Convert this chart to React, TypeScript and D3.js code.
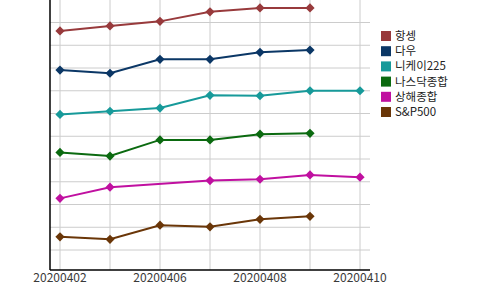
import React from "react";
import * as d3 from "d3";

const categories = ["20200402", "20200403", "20200406", "20200407", "20200408", "20200409", "20200410"];
const tickLabels = ["20200402", "20200406", "20200408", "20200410"];
const seriesNames = ["항셍", "다우", "니케이225", "나스닥종합", "상해종합", "S&P500"];
const seriesColors = ["#983a3c", "#0b3766", "#179a9a", "#0b6a10", "#c010a0", "#6a3608"];

const hangseng = [116.3, 118.5, 120.5, 124.7, 126.4, 126.4, null];
const dow = [99.1, 97.7, 103.8, 103.8, 106.9, 107.9, null];
const nikkei = [79.6, 81.0, 82.4, 88.0, 87.8, 90.0, 90.0];
const nasdaq = [62.9, 61.3, 68.4, 68.4, 70.9, 71.3, null];
const shanghai = [42.7, 47.6, null, 50.5, 51.1, 53.0, 52.0];
const sp500 = [25.8, 24.7, 30.9, 30.2, 33.5, 34.8, null];

const seriesValues: (number | null)[][] = [hangseng, dow, nikkei, nasdaq, shanghai, sp500];
const gridValues = [20, 30, 40, 50, 60, 70, 80, 90, 100, 110, 120];

export default function App() {
  const W = 500, H = 290;
  const left = 50, right = 370, top = 0, bottom = 270;
  const x = d3.scalePoint<string>().domain(categories).range([left, right]).padding(0.2);
  const y = d3.scaleLinear().domain([20, 120]).range([250, 22.5]);
  const line = d3
    .line<{ c: string; v: number }>()
    .x((d) => x(d.c)!)
    .y((d) => y(d.v));
  const diamond = (cx: number, cy: number, r: number) =>
    `M${cx},${cy - r}L${cx + r},${cy}L${cx},${cy + r}L${cx - r},${cy}Z`;
  const font = "'Noto Sans CJK KR', 'Noto Sans', sans-serif";

  return (
    <svg width={W} height={H} style={{ position: "absolute", left: 0, top: 0, background: "#fff" }}>
      {gridValues.map((g) => (
        <line key={"h" + g} x1={left} x2={right} y1={y(g)} y2={y(g)} stroke="#cccccc" strokeWidth={1} />
      ))}
      {categories.map((c) => (
        <line key={"v" + c} x1={x(c)} x2={x(c)} y1={top} y2={bottom} stroke="#cccccc" strokeWidth={1} />
      ))}
      <line x1={left} x2={left} y1={top} y2={bottom} stroke="#000" strokeWidth={1.5} />
      <line x1={left} x2={right} y1={bottom} y2={bottom} stroke="#000" strokeWidth={1.5} />
      {tickLabels.map((t) => (
        <text key={t} x={x(t)} y={282} textAnchor="middle" fontFamily={font} fontSize={12} fill="#3a3a3a">
          {t}
        </text>
      ))}
      {seriesValues.map((vals, si) => {
        const pts = vals
          .map((v, i) => ({ c: categories[i], v: v as number, ok: v !== null }))
          .filter((p) => p.ok);
        return (
          <g key={si}>
            <path d={line(pts) || ""} fill="none" stroke={seriesColors[si]} strokeWidth={2} />
            {pts.map((p) => (
              <path key={p.c} d={diamond(x(p.c)!, y(p.v), 4.6)} fill={seriesColors[si]} />
            ))}
          </g>
        );
      })}
      {seriesNames.map((n, i) => {
        const cy = 36 + i * 15.2;
        return (
          <g key={n}>
            <rect x={381} y={cy - 5} width={10} height={10} fill={seriesColors[i]} />
            <text x={395} y={cy + 4} fontFamily={font} fontSize={11.5} fill="#222">
              {n}
            </text>
          </g>
        );
      })}
    </svg>
  );
}
